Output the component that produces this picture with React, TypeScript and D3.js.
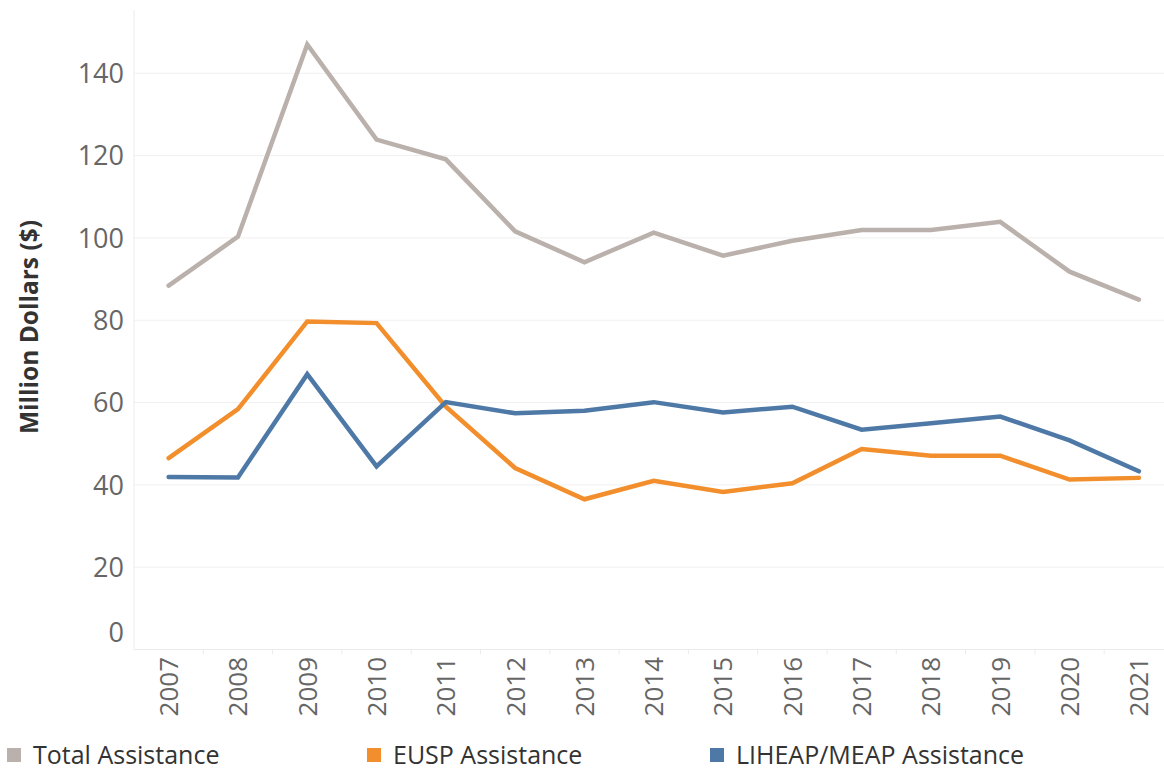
import React from "react";
import * as d3 from "d3";

const years = ["2007","2008","2009","2010","2011","2012","2013","2014","2015","2016","2017","2018","2019","2020","2021"];
const totalAssistance = [88.4, 100.3, 147.0, 123.9, 119.1, 101.6, 94.1, 101.3, 95.7, 99.3, 101.9, 101.9, 103.9, 91.8, 85.0];
const euspAssistance = [46.5, 58.4, 79.7, 79.3, 59.0, 44.1, 36.5, 41.0, 38.3, 40.4, 48.7, 47.1, 47.1, 41.3, 41.7];
const liheapAssistance = [41.9, 41.8, 66.9, 44.5, 60.1, 57.4, 58.0, 60.1, 57.6, 59.0, 53.4, 55.0, 56.6, 50.8, 43.3];
const yTicks = [0, 20, 40, 60, 80, 100, 120, 140];
const seriesNames = ["Total Assistance", "EUSP Assistance", "LIHEAP/MEAP Assistance"];
const seriesColors = ["#bab0ac", "#f28e2b", "#4e79a7"];

const W = 1164, H = 771;
const FONT = "'Open Sans', 'Noto Sans', sans-serif";

export default function App() {
  const x = d3.scaleBand<string>().domain(years).range([134, 134 + 15 * 69.3]);
  const y = d3.scaleLinear().domain([0, 140]).range([649.5, 73.3]);
  const cx = (yr: string) => (x(yr) as number) + x.bandwidth() / 2;
  const line = d3.line<number>().x((_, i) => cx(years[i])).y((v) => y(v));
  const series = [totalAssistance, euspAssistance, liheapAssistance];
  const legendX = [7, 367, 710];

  return (
    <div style={{ position: "absolute", left: 0, top: 0 }}>
      <svg width={W} height={H} style={{ display: "block", background: "#fff" }}>
        {/* gridlines */}
        {yTicks.filter((t) => t > 0).map((t) => (
          <line key={t} x1={134} x2={W} y1={y(t)} y2={y(t)} stroke="#f0f0f0" strokeWidth={1} />
        ))}
        {/* axes */}
        <line x1={134} x2={134} y1={10} y2={y(0)} stroke="#ececec" strokeWidth={1} />
        <line x1={134} x2={W} y1={y(0)} y2={y(0)} stroke="#ececec" strokeWidth={1} />
        {years.map((yr) => (
          <line key={yr} x1={(x(yr) as number) + x.bandwidth()} x2={(x(yr) as number) + x.bandwidth()} y1={y(0)} y2={y(0) + 5} stroke="#ececec" strokeWidth={1} />
        ))}
        {/* y tick labels */}
        {yTicks.map((t) => (
          <text key={t} x={124} y={t === 0 ? y(t) - 17 : y(t)} dy="0.36em" textAnchor="end" fontFamily={FONT} fontSize={27} fill="#666">
            {t}
          </text>
        ))}
        {/* x tick labels */}
        {years.map((yr) => (
          <text key={yr} transform={`translate(${cx(yr)},${657}) rotate(-90)`} dy="0.36em" textAnchor="end" fontFamily={FONT} fontSize={26} fill="#666">
            {yr}
          </text>
        ))}
        {/* y axis title */}
        <text transform={`translate(${29},${327}) rotate(-90)`} dy="0.36em" textAnchor="middle" fontFamily={FONT} fontSize={24.5} fontWeight="bold" fill="#333">
          Million Dollars ($)
        </text>
        {/* lines */}
        {series.map((s, i) => (
          <path key={i} d={line(s) as string} fill="none" stroke={seriesColors[i]} strokeWidth={4.5} strokeLinejoin="miter" strokeLinecap="round" />
        ))}
        {/* legend */}
        {seriesNames.map((n, i) => (
          <g key={n}>
            <rect x={legendX[i]} y={748} width={14} height={14} fill={seriesColors[i]} />
            <text x={legendX[i] + 26} y={764} fontFamily={FONT} fontSize={25} fill="#333">
              {n}
            </text>
          </g>
        ))}
      </svg>
    </div>
  );
}
